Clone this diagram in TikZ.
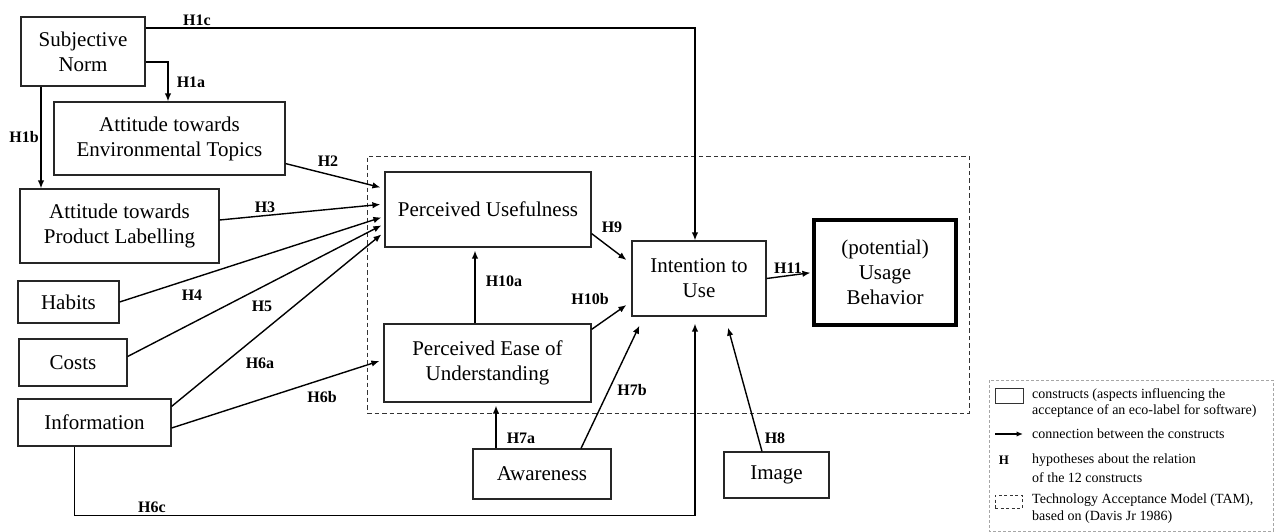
\documentclass[tikz,border=0pt]{standalone}
\usepackage{fontspec}
\setmainfont{Liberation Serif}
\usetikzlibrary{arrows.meta,calc}
\begin{document}
\begin{tikzpicture}[x=1pt,y=-1pt,
  construct/.style={draw=black!85, line width=1.2pt, inner sep=0pt, align=center,
    font=\fontsize{21}{25}\selectfont},
  conn/.style={line width=1.4pt, -{Latex[length=8pt,width=6.5pt]}},
  hyp/.style={font=\fontsize{16}{16}\selectfont\bfseries, inner sep=0pt},
  tambox/.style={draw=black!80, line width=0.9pt, dash pattern=on 4.5pt off 3pt, inner sep=0pt},
  legtext/.style={anchor=west, inner sep=0pt, font=\fontsize{14}{14}\selectfont}]
\useasboundingbox (0,0) rectangle (1276,532);

% Technology Acceptance Model frame
\node[tambox, minimum width=602pt, minimum height=257pt] (tam) at (668,284.5) {};

% constructs
\node[construct, minimum width=124pt, minimum height=69pt] (sn)   at (83,51.5)    {Subjective\\Norm};
\node[construct, minimum width=231pt, minimum height=73pt] (env)  at (169.5,138.5) {Attitude towards\\Environmental Topics};
\node[construct, minimum width=199pt, minimum height=74pt] (pl)   at (119.5,226)   {Attitude towards\\Product Labelling};
\node[construct, minimum width=101pt, minimum height=42pt] (hab)  at (68.5,302)    {Habits};
\node[construct, minimum width=108pt, minimum height=47pt] (cost) at (73,362.5)    {Costs};
\node[construct, minimum width=153pt, minimum height=47pt] (info) at (94.5,422.5)  {Information};
\node[construct, minimum width=206pt, minimum height=75pt] (pu)   at (488,209.5)   {Perceived Usefulness};
\node[construct, minimum width=207pt, minimum height=78pt] (peu)  at (487.5,363)   {Perceived Ease of\\Understanding};
\node[construct, minimum width=134pt, minimum height=75pt] (itu)  at (699,278.5)   {Intention to\\Use};
\node[construct, line width=3.2pt, draw=black, minimum width=142pt, minimum height=105pt] (ub) at (885,272.5) {(potential)\\Usage\\Behavior};
\node[construct, minimum width=138pt, minimum height=50pt] (aw)   at (542,474)     {Awareness};
\node[construct, minimum width=105pt, minimum height=46pt] (img)  at (776.5,475)   {Image};

% hypotheses (connections)
\draw[conn] (sn.east |- 0,28) -| ([xshift=-4pt]itu.north);
\draw[conn] (sn.east |- 0,62) -| ([xshift=-1.5pt]env.north);
\draw[conn] (sn.south -| 41,0) -- (pl.north -| 41,0);
\draw[conn] ($(env.south east)+(0,-12)$) -- ($(pu.north west)+(-4,16)$);
\draw[conn] ($(pl.east)+(0,-6)$) -- ($(pu.north west)+(-4,33)$);
\draw[conn] (hab.east) -- ($(pu.north west)+(-3,46)$);
\draw[conn] ($(cost.east)+(0,-6)$) -- ($(pu.north west)+(-3,54)$);
\draw[conn] ($(info.north east)+(0,8)$) -- ($(pu.north west)+(-3,63)$);
\draw[conn] ($(info.east)+(0,5.5)$) -- ($(peu.west)+(-4,-2)$);
\draw[conn] ($(info.south)+(-20,0)$) -- ++(0,69) -| ($(itu.south)+(-4,7)$);
\draw[conn] ($(aw.north)+(-46,0)$) -- ($(peu.south)+(8.5,3)$);
\draw[conn] ($(aw.north)+(39,0)$) -- ($(itu.south west)+(8,9)$);
\draw[conn] ($(img.north)+(-14.5,0)$) -- ($(itu.south)+(29,11)$);
\draw[conn] ($(pu.south east)+(0,-14)$) -- ($(itu.west)+(-5,-18.5)$);
\draw[conn] ($(peu.north)+(-12.5,0)$) -- ($(pu.south)+(-13,3)$);
\draw[conn] ($(peu.north east)+(0,6)$) -- ($(itu.west)+(-5,26.5)$);
\draw[conn, shorten >=2pt] (itu.east) -- (ub.west);

% hypothesis labels
\node[hyp] (l1c)  at (197,20)  {H1c};
\node[hyp] (l1a)  at (191,82)  {H1a};
\node[hyp] (l1b)  at (24,137)  {H1b};
\node[hyp] (l2)   at (328,161) {H2};
\node[hyp] (l3)   at (265,207) {H3};
\node[hyp] (l4)   at (192,295) {H4};
\node[hyp] (l5)   at (262,306) {H5};
\node[hyp] (l6a)  at (260,363) {H6a};
\node[hyp] (l6b)  at (322,397) {H6b};
\node[hyp] (l6c)  at (152,507) {H6c};
\node[hyp] (l7a)  at (521,438) {H7a};
\node[hyp] (l7b)  at (632,390) {H7b};
\node[hyp] (l8)   at (775,438) {H8};
\node[hyp] (l9)   at (612,227) {H9};
\node[hyp] (l10a) at (504,281) {H10a};
\node[hyp] (l10b) at (590,299) {H10b};
\node[hyp] (l11)  at (788,268) {H11};

% legend
\draw[draw=gray!70, line width=0.9pt, dash pattern=on 3pt off 2pt] (989,380) rectangle (1273,531);
\node[draw=black!80, line width=0.9pt, minimum width=28pt, minimum height=15pt, inner sep=0pt] (kbox) at (1009,395.5) {};
\node[legtext] (t1) at (1032,395) {constructs (aspects influencing the};
\node[legtext] (t2) at (1032,411) {acceptance of an eco-label for software)};
\coordinate (ka) at (995,434);
\coordinate (kb) at (1023,434);
\draw[line width=1.3pt, -{Latex[length=6.5pt,width=5.5pt]}] (ka) -- (kb);
\node[legtext] (t3) at (1032,434) {connection between the constructs};
\node[hyp, font=\fontsize{13}{13}\selectfont\bfseries] (kh) at (1004,460) {H};
\node[legtext] (t4) at (1032,460) {hypotheses about the relation};
\node[legtext] (t5) at (1032,478) {of the 12 constructs};
\node[draw=black!80, line width=0.9pt, dash pattern=on 3pt off 2.5pt, minimum width=27pt, minimum height=13pt, inner sep=0pt] (kdash) at (1008.5,501.5) {};
\node[legtext] (t6) at (1032,500) {Technology Acceptance Model (TAM),};
\node[legtext] (t7) at (1032,517) {based on (Davis Jr 1986)};
\end{tikzpicture}
\end{document}
